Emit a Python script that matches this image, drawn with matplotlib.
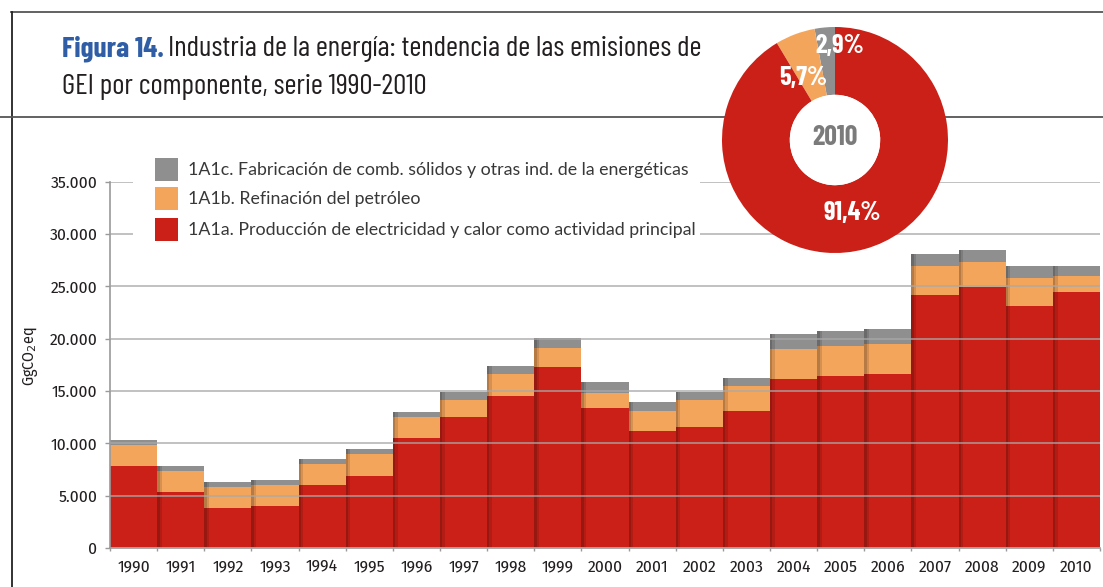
import numpy as np
import matplotlib
matplotlib.use("Agg")
import matplotlib.pyplot as plt
from matplotlib.patches import Rectangle, Circle
from matplotlib.lines import Line2D

# data (GgCO2eq)
years = [str(y) for y in range(1990, 2011)]
electricidad = [7830, 5350, 3820, 4010, 6020, 6880, 10520, 12500, 14490, 17320, 13350,
                11180, 11560, 13130, 16120, 16410, 16600, 24160, 24960, 23110, 24480]
refinacion = [2010, 2010, 2010, 2010, 2010, 2100, 1980, 1670, 2170, 1800, 1420,
              1950, 2610, 2370, 2870, 2870, 2870, 2780, 2360, 2680, 1500]
solidos = [480, 470, 480, 480, 470, 480, 480, 760, 760, 940, 1100,
           790, 760, 780, 1440, 1430, 1430, 1150, 1150, 1150, 960]

yticks = [0, 5000, 10000, 15000, 20000, 25000, 30000, 35000]
ytick_labels = ["0", "5.000", "10.000", "15.000", "20.000", "25.000", "30.000", "35.000"]

legend_labels = [
    "1A1c. Fabricación de comb. sólidos y otras ind. de la energéticas",
    "1A1b. Refinación del petróleo",
    "1A1a. Producción de electricidad y calor como actividad principal",
]

pie_shares = [2.9, 5.7, 91.4]
pie_labels = ["2,9%", "5,7%", "91,4%"]
pie_label_pos = [(0.04, 0.83), (-0.28, 0.55), (0.15, -0.65)]

RED = "#CB2017"
ORANGE = "#F4A55C"
GREY = "#8F8F8F"
BLUE = "#2F5EA6"
NARROW = ["Barlow Condensed", "DejaVu Sans"]
TICKFONT = ["Fira Sans Condensed", "DejaVu Sans"]

W, H = 1103, 587


def fx(px):
    return px / W


def fy(py):
    return 1 - py / H


fig = plt.figure(figsize=(W / 100, H / 100), dpi=100)

# main bar chart
ax = fig.add_axes([fx(110), fy(548), fx(1100) - fx(110), fy(181.7) - fy(548)])
x = np.arange(len(years))
elec = np.array(electricidad)
refi = np.array(refinacion)
soli = np.array(solidos)

ax.bar(x, elec, width=1.0, color=RED, zorder=1)
ax.bar(x, refi, bottom=elec, width=1.0, color=ORANGE, zorder=1)
ax.bar(x, soli, bottom=elec + refi, width=1.0, color=GREY, zorder=1)
totals = elec + refi + soli
# soft shadow on the left edge of each bar
ax.bar(x[1:] - 0.5, totals[1:], width=0.10, align="edge", color="black", alpha=0.12, zorder=1.5)
ax.bar(x[1:] - 0.5, totals[1:], width=0.05, align="edge", color="black", alpha=0.15, zorder=1.5)

ax.set_xlim(-0.5, len(years) - 0.5)
ax.set_ylim(0, 35000)
ax.set_yticks(yticks)
ax.set_yticklabels(ytick_labels, fontfamily=TICKFONT, fontsize=12.5, color="#231F20")
ax.set_xticks(x)
ax.set_xticklabels(years, fontfamily=TICKFONT, fontsize=12.5, color="#231F20")
ax.set_xticks(np.arange(len(years) + 1) - 0.5, minor=True)
ax.tick_params(axis="y", length=3.6, width=1, color="#9A9A9A", pad=5.5)
ax.tick_params(axis="x", which="major", length=0, pad=8)
ax.tick_params(axis="x", which="minor", length=2.5, width=1, color="#9A9A9A")
ax.yaxis.grid(True, color="#A8A8A8", lw=1.1, alpha=0.9)
ax.set_axisbelow(False)
for s in ["top", "right"]:
    ax.spines[s].set_visible(False)
for s in ["left", "bottom"]:
    ax.spines[s].set_color("#9A9A9A")
    ax.spines[s].set_linewidth(1.2)

fig.text(fx(30), fy(356), "GgCO$_2$eq", rotation=90, ha="center", va="center",
         fontfamily=TICKFONT, fontsize=11.5, color="#231F20")

# legend on a white box that hides the upper gridlines
fig.patches.append(Rectangle((fx(133), fy(250)), fx(700) - fx(133), fy(150) - fy(250),
                             transform=fig.transFigure, facecolor="white",
                             edgecolor="none", zorder=1))
for i, (lab, col) in enumerate(zip(legend_labels, [GREY, ORANGE, RED])):
    top = [158, 187, 218][i]
    fig.patches.append(Rectangle((fx(155), fy(top + 23)), fx(178) - fx(155), fy(top) - fy(top + 23),
                                 transform=fig.transFigure, facecolor=col,
                                 edgecolor="none", zorder=2))
    fig.text(fx(188), fy(top + 12), lab, ha="left", va="center",
             fontfamily=["Lato", "DejaVu Sans"], fontsize=12.8, color="#383838", zorder=3)

# frame lines
fig.lines.append(Line2D([fx(11), 1], [fy(12), fy(12)], transform=fig.transFigure,
                        color="#555555", lw=1.3, zorder=2))
fig.lines.append(Line2D([fx(12), fx(12)], [fy(12), 0], transform=fig.transFigure,
                        color="#222222", lw=1.3, zorder=2))
fig.lines.append(Line2D([0, 1], [fy(117), fy(117)], transform=fig.transFigure,
                        color="#555555", lw=1.3, zorder=2))

# title
t1 = fig.text(fx(62), fy(62), "Figura 14.", ha="left", va="bottom", fontfamily=NARROW,
              fontsize=21, fontweight="bold", color=BLUE)
plt.annotate("Industria de la energía: tendencia de las emisiones de",
             xy=(1, 0), xycoords=t1, xytext=(3, 0), textcoords="offset points",
             ha="left", va="bottom", fontfamily=NARROW, fontsize=21, color="#231F20",
             annotation_clip=False)
fig.text(fx(62), fy(100), "GEI por componente, serie 1990-2010", ha="left", va="bottom",
         fontfamily=NARROW, fontsize=21, color="#231F20")

# donut for 2010
pax = fig.add_axes([fx(722), fy(253), 226 / W, 226 / H], zorder=5)
pax.pie(pie_shares, colors=[GREY, ORANGE, RED], startangle=90, counterclock=True,
        radius=1, wedgeprops=dict(width=0.6, edgecolor="none"))
pax.add_patch(Circle((0, 0), 0.4, facecolor="white", edgecolor="none"))
pax.set_xlim(-1, 1)
pax.set_ylim(-1, 1)
pax.set_aspect("equal")
pax.axis("off")
for lab, (px, py) in zip(pie_labels, pie_label_pos):
    pax.text(px, py, lab, ha="center", va="center", fontfamily=NARROW, fontsize=19,
             fontweight="bold", color="white")
pax.text(0, 0.02, "2010", ha="center", va="center", fontfamily=NARROW, fontsize=20,
         fontweight="bold", color="#7B7B7B")

fig.savefig("out.png", dpi=100)
